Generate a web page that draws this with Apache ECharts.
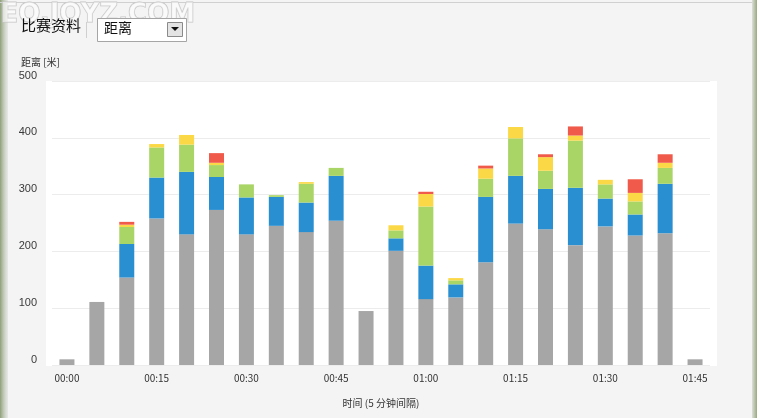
<!DOCTYPE html>
<html><head><meta charset="utf-8">
<script src="https://cdn.jsdelivr.net/npm/echarts@6/dist/echarts.min.js"></script>
<style>html,body{margin:0;padding:0;background:#f4f4f4;}#c{width:757px;height:418px;}</style>
</head><body><div id="c"></div>
<script>
var categories = ['00:00','00:05','00:10','00:15','00:20','00:25','00:30','00:35','00:40','00:45','00:50','00:55','01:00','01:05','01:10','01:15','01:20','01:25','01:30','01:35','01:40','01:45'];
var grayVals   = [10,111,154,258,230,273,230,245,234,254,95,201,116,119,181,249,239,211,244,228,232,10];
var blueVals   = [0,0,59,72,110,58,65,51,52,79,0,22,59,23,115,84,71,101,49,37,87,0];
var greenVals  = [0,0,30,53,48,21,23,3,33,14,0,14,104,7,32,66,32,83,25,23,28,0];
var yellowVals = [0,0,4,6,17,4,0,0,3,0,0,9,22,4,18,20,24,9,8,15,9,0];
var redVals    = [0,0,5,0,0,17,0,0,0,0,0,0,4,0,5,0,5,16,0,24,15,0];
var yTicks = [0,100,200,300,400,500];

var font = '"Noto Sans CJK SC", "DejaVu Sans", sans-serif';
var chart = echarts.init(document.getElementById('c'));
function bar(name, data, color){
  return {name:name, type:'bar', stack:'d', data:data, barWidth:15, xAxisIndex:1, yAxisIndex:1,
    itemStyle:{color:color}, emphasis:{disabled:true}, animation:false};
}
chart.setOption({
  backgroundColor:'#f4f4f4',
  animation:false,
  grid:[
    {left:46, right:40, top:81, bottom:52, show:true, backgroundColor:'#ffffff', borderWidth:0},
    {left:52, right:47, top:81, bottom:53}
  ],
  xAxis:[
    {type:'category', gridIndex:0, show:false, data:categories},
    {type:'category', gridIndex:1, data:categories,
      axisLine:{show:false}, axisTick:{show:false},
      axisLabel:{interval:2, color:'#333', fontSize:10, fontFamily:font, margin:8},
      name:'时间 (5 分钟间隔)', nameLocation:'middle', nameGap:33,
      nameTextStyle:{color:'#333', fontSize:10, fontFamily:font}}
  ],
  yAxis:[
    {type:'value', gridIndex:0, show:false, min:0, max:500},
    {type:'value', gridIndex:1, min:yTicks[0], max:yTicks[yTicks.length-1], interval:100,
      axisLine:{show:false}, axisTick:{show:false},
      axisLabel:{color:'#3a3a3a', fontSize:11, fontFamily:'"Liberation Sans", Arial, sans-serif', margin:15, verticalAlign:'bottom'},
      splitLine:{lineStyle:{color:'#ececec', width:1}}}
  ],
  graphic:[
    {type:'rect', left:0, top:0, shape:{width:8, height:418}, silent:true,
      style:{fill:new echarts.graphic.LinearGradient(0,0,1,0,[{offset:0,color:'#8f9f78'},{offset:1,color:'rgba(200,205,195,0.3)'}])}},
    {type:'rect', left:752, top:0, shape:{width:5, height:418}, silent:true,
      style:{fill:new echarts.graphic.LinearGradient(0,0,1,0,[{offset:0,color:'#dde0d8'},{offset:1,color:'#9aa882'}])}},
    {type:'rect', left:0, top:2, shape:{width:752, height:1}, silent:true, style:{fill:'#d0d0d0'}},
    {type:'text', left:0, top:2, silent:true,
      style:{text:'EO.JOYZ.COM', font:'bold 26px "DejaVu Sans"', fill:'rgba(255,255,255,0.5)', stroke:'#c4c4c4', lineWidth:1}},
    {type:'text', left:21, top:18, silent:true,
      style:{text:'比赛资料', font:'15px "Noto Sans CJK SC"', fill:'#111'}},
    {type:'rect', left:86, top:22, shape:{width:1, height:16}, silent:true, style:{fill:'#cfcfcf'}},
    {type:'rect', left:97, top:18, shape:{width:89, height:23}, silent:true,
      style:{fill:'#ffffff', stroke:'#a5a5a5', lineWidth:1}},
    {type:'text', left:104, top:21, silent:true,
      style:{text:'距离', font:'14px "Noto Sans CJK SC"', fill:'#111'}},
    {type:'rect', left:167, top:22, shape:{width:15, height:14}, silent:true,
      style:{fill:'#e4e4e4', stroke:'#8a8a8a', lineWidth:1}},
    {type:'polygon', silent:true, shape:{points:[[171,27],[179,27],[175,31]]}, style:{fill:'#111'}},
    {type:'text', left:21, top:57, silent:true,
      style:{text:'距离 [米]', font:'10px "Noto Sans CJK SC"', fill:'#333'}}
  ],
  series:[
    bar('gray', grayVals, '#a6a6a6'),
    bar('blue', blueVals, '#2a8fd1'),
    bar('green', greenVals, '#a9d466'),
    bar('yellow', yellowVals, '#fbd845'),
    bar('red', redVals, '#f05a4a')
  ]
});
</script></body></html>
